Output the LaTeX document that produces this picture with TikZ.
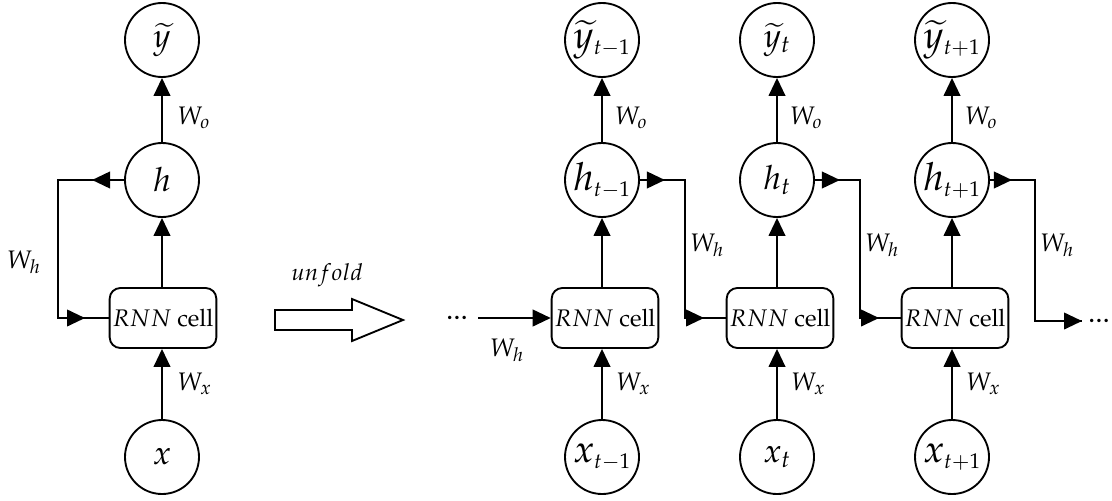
\documentclass[tikz,border=0pt]{standalone}
\usepackage[T1]{fontenc}
\usepackage{mathpazo}
\DeclareMathSizes{25}{25}{18}{13}
\DeclareMathSizes{29}{29}{16}{12}
\usetikzlibrary{arrows.meta}

\tikzset{
  wire/.style={line width=1.4pt},
  arr/.style={wire, -{Triangle[length=13.5pt,width=12.5pt]}},
  state/.style={circle, draw, line width=1.4pt, minimum size=55.5pt, inner sep=0pt,
                font=\fontsize{25}{30}\selectfont},
  stateL/.style={state, font=\fontsize{29}{34}\selectfont},
  cellbox/.style={draw, line width=1.4pt, rounded corners=8pt, minimum width=80pt,
                  minimum height=45pt, inner sep=0pt, font=\fontsize{18}{22}\selectfont},
  wlab/.style={font=\fontsize{19}{23}\selectfont, inner sep=0pt},
  dotlab/.style={font=\fontsize{22}{26}\selectfont, inner sep=0pt},
}

\begin{document}
\begin{tikzpicture}[x=0.75pt, y=-0.75pt]
\useasboundingbox (0,0) rectangle (1112,500);

% ---- folded network ----
\node[state] (yf) at (162,40)  {$\widetilde{y}$};
\node[state] (hf) at (162,180) {$h$};
\node[cellbox] (cf) at (163,318) {$RNN$ cell};
\node[state] (xf) at (162,457) {$x$};

\draw[arr] (xf) -- (xf |- cf.south) node[wlab, midway, anchor=west, xshift=11pt] {$W_x$};
\draw[arr] (hf |- cf.north) -- (hf);
\draw[arr] (hf) -- (yf) node[wlab, midway, anchor=west, xshift=11pt, yshift=-6pt] {$W_o$};

\coordinate (kf) at (58,180);
\draw[wire] (hf.west) -- (kf) |- (cf.west);
\draw[arr] (hf.west) -- ++(-32,0);
\draw[arr] (kf |- cf.west) -- ++(27,0);
\node[wlab, anchor=east] (whf) at (41,262) {$W_h$};

% ---- unfold arrow ----
\draw[wire] (275,310) -- (352,310) -- (352,299) -- (403,320) -- (352,341)
            -- (352,330) -- (275,330) -- cycle;
\node[wlab, font=\fontsize{17.5}{21}\selectfont] (unf) at (327,275) {$unfold$};

% ---- unrolled network ----
\foreach \i/\cx/\sub/\sty in {1/602/{t-1}/stateL, 2/777/{t}/state, 3/952/{t+1}/stateL} {
  \node[\sty] (y\i) at (\cx,40)  {$\widetilde{y}_{\sub}$};
  \node[\sty] (h\i) at (\cx,180) {$h_{\sub}$};
  \node[cellbox] (c\i) at (\cx+3,318) {$RNN$ cell};
  \node[\sty] (x\i) at (\cx,457) {$x_{\sub}$};
  \draw[arr] (x\i) -- (x\i |- c\i.south) node[wlab, midway, anchor=west, xshift=10pt] {$W_x$};
  \draw[arr] (h\i |- c\i.north) -- (h\i);
  \draw[arr] (h\i) -- (y\i) node[wlab, midway, anchor=west, xshift=9pt, yshift=-6pt] {$W_o$};
  \coordinate (k\i) at (\cx+83,180);
  \node[wlab, anchor=west] (wh\i) at (\cx+88,245) {$W_h$};
}

% recurrent links between time steps
\draw[wire] (h1.east) -- (k1) |- (c2.west);
\draw[arr] (h1.east) -- ++(25,0);
\draw[arr] (k1 |- c2.west) -- ++(19,0);

\draw[wire] (h2.east) -- (k2) |- (c3.west);
\draw[arr] (h2.east) -- ++(25,0);
\draw[arr] (k2 |- c3.west) -- ++(19,0);

\coordinate (out) at (1082,321);
\draw[wire] (h3.east) -- (k3) |- (out);
\draw[arr] (h3.east) -- ++(22,0);
\draw[arr] (k3 |- out) -- (out);
\node[dotlab] (dout) at (1099,321) {...};

% incoming state
\coordinate (in) at (478,318);
\node[dotlab] (din) at (457,318) {...};
\draw[arr] (in) -- (c1.west);
\node[wlab] (whin) at (507,350) {$W_h$};

\end{tikzpicture}
\end{document}
